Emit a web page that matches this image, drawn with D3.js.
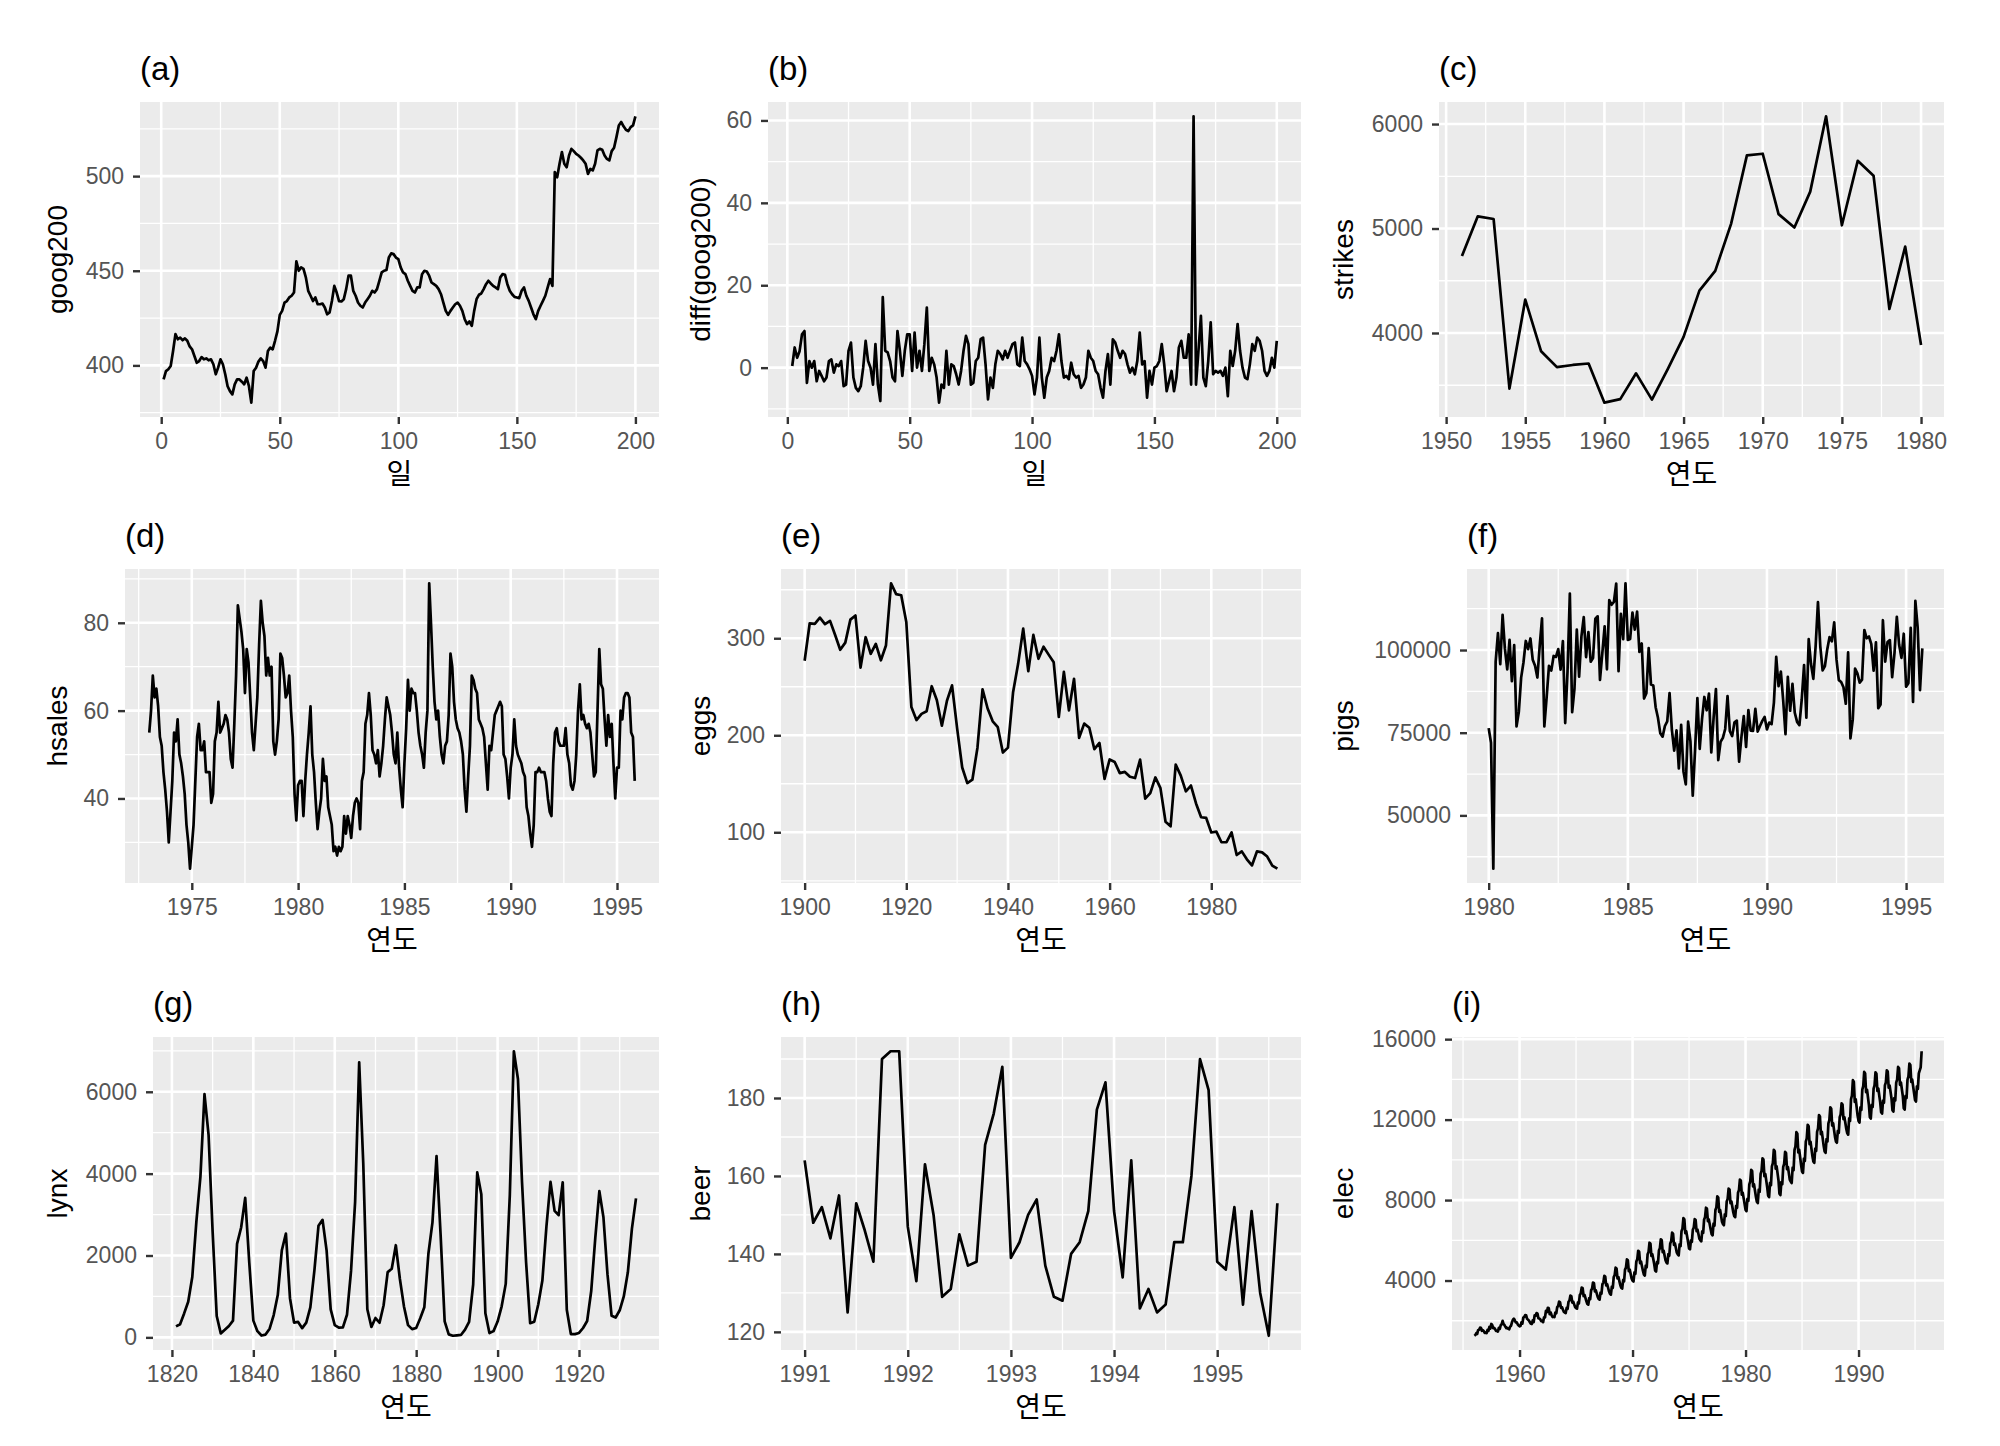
<!DOCTYPE html>
<html>
<head>
<meta charset="utf-8">
<script src="https://cdnjs.cloudflare.com/ajax/libs/d3/7.8.5/d3.min.js"></script>
<style>
  body { margin: 0; background: #fff; }
  text { font-family: "Liberation Sans", Arial, "Noto Sans CJK KR", sans-serif; }
</style>
</head>
<body>
<div id="chart"></div>
<script>
/////////// series ///////////

// (a) goog200, days 1..200
var goog200 = [
  392.6, 397, 398, 399.7, 407.6, 416.5, 413.8, 414.7, 413.3, 414.3,
  413, 410, 408.5, 405, 401.4, 402.3, 404.4, 403.2, 403.7, 402.7,
  403.2, 400.6, 395.3, 398.8, 403.2, 400.6, 395.3, 389, 386.4, 384.7,
  390, 392.6, 392.6, 391.4, 390, 393.5, 389, 380.3, 397, 398.8,
  402, 403.7, 402.3, 398.8, 407.6, 409.4, 408.5, 413, 418, 426.7,
  428.8, 433.2, 434, 435.9, 436.8, 438.5, 455, 450, 451.8, 451,
  446.5, 439.4, 436.8, 434, 435.9, 432.3, 432.3, 432.7, 430.6, 427,
  428, 434, 442, 438.5, 434, 433.8, 435, 440.3, 447.4, 447.4,
  439.4, 436.8, 433.2, 431.5, 430.6, 433.2, 435, 436.8, 439.4, 438.5,
  440.3, 444.7, 449.1, 450, 450.4, 457, 459.2, 458.8, 457, 456.2,
  451.8, 449.1, 448.2, 444.7, 442, 439.4, 438.5, 441.2, 441.2, 448.2,
  450, 449.6, 447.4, 443.8, 442.9, 442, 440.3, 437.6, 433.2, 428.8,
  426.7, 428.8, 430.6, 432.3, 433.2, 431.5, 428.8, 424.4, 421.8, 423.2,
  420.9, 428.8, 435, 437.3, 438, 440.3, 442.9, 444.7, 443.3, 442,
  441.2, 440.3, 446.5, 448.2, 447.9, 442.9, 439.4, 437.6, 436.2, 435.9,
  435.5, 439.4, 441.2, 436.8, 434.1, 430.6, 427, 424.4, 428.8, 431.5,
  434.1, 436.8, 441.2, 445.6, 442, 502.1, 499.4, 506.5, 512.7, 506.5,
  504.7, 510.9, 514.4, 513.2, 511.8, 510.9, 509.7, 508.3, 506.5, 501.2,
  503.8, 503, 506.5, 513.6, 514.4, 513.9, 510.9, 509.1, 508.3, 513.2,
  515, 520.6, 526.8, 528.6, 526.3, 524.5, 523.8, 525.9, 526.8, 531.6
];

// (b) diff(goog200), days 2..200
var googDiff = [
  0.4, 4.9, 2.4, 4, 8.1, 8.9, -3.7, 1.6, 0,
  1.6, -3.3, -0.8, -2, -3.3, -2.4, 1.6, 2, -1.2, 0.8,
  0.4, 1.6, -4.5, -4.1, 4.1, 6.1, -2.4, -4.9, -5.7, -4.5,
  0, 6.5, 1.6, 0, -4.1, 5.7, -4.1, -8.1, 17.1, 4.1,
  3.7, 1.6, -2.4, -3.3, 8.9, 4.1, -2, 4.1, 8.1, 8.1,
  -0.8, 8.5, 0, 4.1, -0.8, 5.7, 14.6, -0.8, 2.4, 0.8,
  -2.4, -8.5, -4.1, -4.9, 4.1, -4.1, 0.8, 0.4, -1.6, -4.1,
  -0.8, 4.1, 7.7, 5.7, -4.1, -3.7, 1.6, 2.4, 6.9, 7.3,
  0.8, -7.7, -2.4, -4.9, 0.8, 4.1, 3.3, 2, 4.1, 2.4,
  4.1, 5.7, 6.1, 0.8, 0.4, 7.3, 1.6, 0.8, -0.4, -2,
  -6.5, -2.4, 7.3, -2.4, -7.3, -2.4, -0.8, 2.4, 1.6, 4.1,
  8.1, 1.6, -2.4, -2, -2.8, 1.2, -1.6, -2.4, -2, -4.9,
  -4.1, -2.4, 4.1, 2.4, 1.6, -0.8, -1.6, -4.9, -7.3, -0.8,
  3.3, -4.1, 6.9, 6.1, 4.1, 2.4, 4.1, 3.3, 0.8, -1.2,
  0, -1.6, 1.6, 8.5, 0.8, 1.6, -7.3, -0.8, -4.1, 0,
  0.4, 1.6, 5.7, 0.8, -5.7, -3.3, -0.8, -5.7, -2.4, 4.9,
  6.5, 2.4, 2.4, 8.1, -4.1, 61, -4.1, 4.1, 12.6, -2.4,
  -4.5, 1.6, 11, -1.6, -0.8, -1.2, -0.8, -2, 0, -6.9,
  4.1, 0.4, 4.1, 10.6, 4.1, 0, -2.4, -2.8, 0.8, 5.7,
  4.1, 7.3, 6.5, 4.1, -0.8, -2, -0.8, 2.4, 0, 6.5
];

// (c) strikes, 1951..1980
var strikes = [
  4737, 5117, 5091, 3468, 4320, 3825, 3673, 3694, 3708, 3333,
  3367, 3614, 3362, 3655, 3963, 4405, 4595, 5045, 5700, 5716,
  5138, 5010, 5353, 6074, 5031, 5648, 5506, 4230, 4827, 3885
];

// (d) hsales, monthly from Jan 1973
var hsales = [
  55, 60, 68, 63, 65, 61, 54, 52, 46, 42, 37, 30,
  37, 44, 55, 53, 58, 50, 48, 45, 41, 34, 30, 24,
  29, 34, 44, 54, 57, 51, 51, 53, 46, 46, 46, 39,
  41, 53, 55, 62, 55, 56, 57, 59, 58, 55, 49, 47,
  57, 68, 84, 81, 78, 74, 64, 74, 71, 63, 55, 51,
  57, 63, 75, 85, 80, 77, 68, 72, 68, 70, 53, 50,
  53, 58, 73, 72, 68, 63, 64, 68, 60, 54, 41, 35,
  43, 44, 44, 36, 44, 50, 55, 61, 50, 46, 39, 33,
  37, 40, 49, 44, 45, 38, 36, 34, 28, 29, 27, 29,
  28, 29, 36, 32, 36, 34, 31, 36, 39, 40, 39, 33,
  44, 46, 57, 59, 64, 59, 51, 50, 48, 51, 45, 48,
  52, 58, 63, 61, 59, 55, 50, 48, 55, 47, 42, 38,
  48, 56, 67, 60, 65, 64, 64, 60, 55, 52, 50, 47,
  55, 60, 89, 80, 70, 62, 58, 60, 54, 50, 48, 52,
  53, 59, 73, 70, 62, 58, 56, 55, 53, 50, 42, 37,
  45, 52, 68, 67, 65, 64, 58, 57, 56, 54, 48, 42,
  52, 51, 55, 59, 60, 61, 62, 61, 50, 49, 45, 40,
  47, 50, 58, 52, 50, 49, 48, 46, 45, 38, 36, 32,
  29, 34, 46, 46, 47, 46, 46, 46, 44, 40, 37, 36,
  48, 55, 56, 53, 52, 52, 52, 56, 50, 48, 43, 42,
  44, 50, 60, 66, 58, 59, 57, 56, 57, 55, 50, 45,
  46, 60, 74, 66, 65, 58, 52, 59, 54, 57, 48, 40,
  47, 47, 60, 58, 63, 64, 64, 63, 55, 54, 44
];

// (e) eggs, 1900..1993
var eggs = [
  276.79, 315.42, 314.87, 321.25, 314.54, 317.92, 303.39, 288.11, 295.5, 319.2,
  323.4, 269.8, 301.06, 284, 294.23, 277.3, 292.51, 356.67, 345.46, 344.31,
  316.84, 229.07, 215.66, 222.09, 224.8, 250.53, 236.42, 209.89, 235.62, 251.44,
  207.07, 166.74, 150.71, 154.21, 187.18, 247.4, 227.61, 214.36, 208.35, 182.19,
  187.25, 244.03, 273.63, 309.96, 266.03, 303.43, 278.83, 291.32, 283.14, 275.17,
  218.84, 265.37, 225.72, 258.18, 197.36, 211.98, 207.68, 185.61, 192.07, 155.07,
  175.04, 172.49, 161.02, 162.19, 157.17, 155.89, 174.92, 134.64, 140.31, 156.54,
  145.55, 110.92, 106.21, 169.76, 158.44, 142.24, 148.17, 129.75, 115.5, 114.76,
  99.77, 100.59, 89.69, 89.8, 99.77, 76.55, 80.31, 72.16, 65.81, 80.36,
  79.3, 74.94, 65.67, 62.42
];

// (f) pigs, monthly from Jan 1980
var pigs = [
  76378, 71947, 33873, 96428, 105084, 95741, 110647, 100331, 94133, 103055, 90595, 101457,
  76889, 81291, 91643, 96228, 102736, 100264, 103491, 97027, 95240, 91680, 101259, 109564,
  76892, 85773, 95210, 93771, 98202, 97906, 100306, 94089, 102680, 77919, 93561, 117062,
  81225, 88357, 106175, 91922, 104114, 109959, 97880, 105386, 96479, 97580, 109490, 110191,
  90974, 98981, 107188, 94177, 115097, 113696, 114532, 120110, 93607, 110925, 103312, 120184,
  103069, 103351, 111331, 106161, 111590, 99447, 101987, 85333, 86970, 100561, 89543, 89265,
  82719, 79498, 74846, 73819, 77029, 78446, 86978, 75878, 69571, 75722, 64182, 77357,
  63292, 59380, 78332, 72381, 55971, 69750, 85472, 70133, 79125, 85805, 81778, 86852,
  69069, 79556, 88174, 66698, 72258, 73445, 76131, 86082, 75443, 73969, 78139, 78646,
  66269, 73776, 80034, 70694, 81823, 75640, 75540, 82229, 75345, 77034, 78589, 79769,
  75982, 78074, 77588, 84100, 97966, 89051, 93503, 84747, 74531, 91900, 81635, 89797,
  81022, 78265, 77271, 85043, 95418, 79568, 103283, 95770, 91297, 101244, 114525, 101139,
  93866, 95171, 100183, 103926, 102643, 108387, 97077, 90901, 90336, 88732, 83759, 99267,
  73292, 78943, 94399, 92937, 90130, 91055, 106062, 103560, 104075, 101783, 93791, 102313,
  82413, 83534, 109011, 96499, 102430, 103002, 91815, 99067, 110067, 101599, 97646, 104930,
  88905, 89936, 106723, 84307, 114896, 106749, 87892, 100506
];

// (g) lynx, 1821..1934
var lynx = [
  269, 321, 585, 871, 1475, 2821, 3928, 5943, 4950, 2577,
  523, 98, 184, 279, 409, 2285, 2685, 3409, 1824, 409,
  151, 45, 68, 213, 546, 1033, 2129, 2536, 957, 361,
  377, 225, 360, 731, 1638, 2725, 2871, 2119, 684, 299,
  236, 245, 552, 1623, 3311, 6721, 4254, 687, 255, 473,
  358, 784, 1594, 1676, 2251, 1426, 756, 299, 201, 229,
  469, 736, 2042, 2811, 4431, 2511, 389, 73, 39, 49,
  59, 188, 377, 1292, 4031, 3495, 587, 105, 153, 387,
  758, 1307, 3465, 6991, 6313, 3794, 1836, 345, 382, 808,
  1388, 2713, 3800, 3091, 2985, 3790, 674, 81, 80, 108,
  229, 399, 1132, 2432, 3574, 2935, 1537, 529, 485, 662,
  1000, 1590, 2657, 3396
];

// (h) beer, monthly from Jan 1991
var beer = [
  164, 148, 152, 144, 155, 125, 153, 146, 138, 190, 192, 192,
  147, 133, 163, 150, 129, 131, 145, 137, 138, 168, 176, 188,
  139, 143, 150, 154, 137, 129, 128, 140, 143, 151, 177, 184,
  151, 134, 164, 126, 131, 125, 127, 143, 143, 160, 190, 182,
  138, 136, 152, 127, 151, 130, 119, 153
];

// (i) elec, monthly from Jan 1956
var elec = [
  1254, 1290, 1379, 1346, 1535, 1555, 1655, 1651, 1500, 1538, 1486, 1394,
  1409, 1387, 1543, 1502, 1693, 1616, 1841, 1787, 1631, 1649, 1586, 1500,
  1497, 1463, 1648, 1595, 1777, 1824, 1994, 1835, 1787, 1699, 1633, 1645,
  1597, 1577, 1709, 1756, 1936, 2052, 2105, 2016, 1914, 1925, 1824, 1765,
  1721, 1752, 1914, 1857, 2159, 2195, 2287, 2276, 2096, 2055, 2004, 1924,
  1851, 1839, 2019, 1937, 2270, 2251, 2382, 2364, 2129, 2110, 2072, 1980,
  1995, 1932, 2171, 2162, 2489, 2424, 2641, 2630, 2324, 2412, 2284, 2186,
  2203, 2180, 2411, 2373, 2681, 2734, 2950, 2927, 2642, 2681, 2565, 2450,
  2406, 2380, 2641, 2598, 2946, 3006, 3250, 3224, 2902, 2946, 2815, 2685,
  2632, 2600, 2915, 2863, 3283, 3356, 3650, 3619, 3230, 3283, 3125, 2968,
  2833, 2800, 3130, 3075, 3515, 3592, 3900, 3867, 3460, 3515, 3350, 3185,
  3085, 3050, 3404, 3345, 3817, 3900, 4230, 4195, 3758, 3817, 3640, 3463,
  3340, 3300, 3702, 3635, 4171, 4265, 4640, 4600, 4104, 4171, 3970, 3769,
  3644, 3600, 4035, 3963, 4543, 4644, 5050, 5007, 4470, 4543, 4325, 4108,
  3996, 3950, 4409, 4333, 4945, 5052, 5480, 5434, 4868, 4945, 4715, 4486,
  4299, 4250, 4739, 4658, 5310, 5424, 5880, 5831, 5228, 5310, 5065, 4821,
  4498, 4450, 4930, 4850, 5490, 5602, 6050, 6002, 5410, 5490, 5250, 5010,
  4896, 4850, 5309, 5233, 5845, 5952, 6380, 6334, 5768, 5845, 5615, 5386,
  5306, 5250, 5805, 5713, 6453, 6582, 7100, 7045, 6360, 6453, 6175, 5898,
  5595, 5550, 6000, 5925, 6525, 6630, 7050, 7005, 6450, 6525, 6300, 6075,
  6000, 5950, 6451, 6368, 7036, 7152, 7620, 7570, 6952, 7036, 6785, 6535,
  6308, 6250, 6829, 6733, 7505, 7640, 8180, 8122, 7408, 7505, 7215, 6926,
  6805, 6750, 7296, 7205, 7933, 8060, 8570, 8515, 7842, 7933, 7660, 7387,
  7206, 7150, 7711, 7618, 8366, 8496, 9020, 8964, 8272, 8366, 8085, 7805,
  7512, 7450, 8065, 7963, 8783, 8926, 9500, 9439, 8680, 8783, 8475, 8168,
  7917, 7850, 8519, 8408, 9300, 9456, 10080, 10013, 9188, 9300, 8965, 8631,
  8221, 8150, 8855, 8738, 9678, 9842, 10500, 10430, 9560, 9678, 9325, 8973,
  8315, 8250, 8895, 8788, 9648, 9798, 10400, 10336, 9540, 9648, 9325, 9003,
  8926, 8850, 9609, 9483, 10495, 10672, 11380, 11304, 10368, 10495, 10115, 9736,
  9422, 9350, 10067, 9948, 10904, 11071, 11740, 11668, 10784, 10904, 10545, 10187,
  9921, 9850, 10564, 10445, 11397, 11564, 12230, 12159, 11278, 11397, 11040, 10683,
  10418, 10350, 11028, 10915, 11819, 11977, 12610, 12542, 11706, 11819, 11480, 11141,
  10909, 10850, 11438, 11340, 12124, 12261, 12810, 12751, 12026, 12124, 11830, 11536,
  11331, 11250, 12063, 11928, 13012, 13201, 13960, 13879, 12876, 13012, 12605, 12199,
  11926, 11850, 12606, 12480, 13488, 13664, 14370, 14294, 13362, 13488, 13110, 12732,
  12119, 12050, 12740, 12625, 13545, 13706, 14350, 14281, 13430, 13545, 13200, 12855,
  12365, 12300, 12945, 12838, 13698, 13848, 14450, 14386, 13590, 13698, 13375, 13053,
  12467, 12400, 13066, 12955, 13843, 13998, 14620, 14553, 13732, 13843, 13510, 13177,
  12569, 12500, 13187, 13073, 13989, 14149, 14790, 14721, 13874, 13989, 13645, 13302,
  12975, 12900, 13650, 13525, 14300, 14450, 14600, 15400
];

// tick labels per panel
var ticksDay = [0, 50, 100, 150, 200];
var ticksA = [400, 450, 500];
var ticksB = [0, 20, 40, 60];
var ticksStrikesX = [1950, 1955, 1960, 1965, 1970, 1975, 1980];
var ticksStrikesY = [4000, 5000, 6000];
var ticksHsalesX = [1975, 1980, 1985, 1990, 1995];
var ticksHsalesY = [40, 60, 80];
var ticksEggsX = [1900, 1920, 1940, 1960, 1980];
var ticksEggsY = [100, 200, 300];
var ticksPigsX = [1980, 1985, 1990, 1995];
var ticksPigsY = [50000, 75000, 100000];
var ticksLynxX = [1820, 1840, 1860, 1880, 1900, 1920];
var ticksLynxY = [0, 2000, 4000, 6000];
var ticksBeerX = [1991, 1992, 1993, 1994, 1995];
var ticksBeerY = [120, 140, 160, 180];
var ticksElecX = [1960, 1970, 1980, 1990];
var ticksElecY = [4000, 8000, 12000, 16000];

/////////// drawing ///////////

var svg = d3.select("#chart").append("svg")
  .attr("width", 2000).attr("height", 1446)
  .style("background", "#fff");

function series(values, start, step) {
  return values.map(function(v, i) { return { x: start + i * step, y: v }; });
}

// ggplot-style minor breaks: half way between majors, one beyond each end
function minorBreaks(ticks, domain) {
  var step = ticks[1] - ticks[0];
  var out = [ticks[0] - step / 2];
  ticks.forEach(function(t) { out.push(t + step / 2); });
  return out.filter(function(v) { return v >= domain[0] && v <= domain[1]; });
}

function padded(ext) {
  var p = (ext[1] - ext[0]) * 0.05;
  return [ext[0] - p, ext[1] + p];
}

var panelTitleSize = 33, axisTitleSize = 28, tickSize = 23;

function drawPanel(p) {
  var left = p.box[0], top = p.box[1], right = p.box[2], bottom = p.box[3];
  var xd = padded(d3.extent(p.data, function(d) { return d.x; }));
  var yd = padded(d3.extent(p.data, function(d) { return d.y; }));
  var x = d3.scaleLinear().domain(xd).range([left, right]);
  var y = d3.scaleLinear().domain(yd).range([bottom, top]);

  var g = svg.append("g");
  g.append("rect")
    .attr("x", left).attr("y", top)
    .attr("width", right - left).attr("height", bottom - top)
    .attr("fill", "#EBEBEB");

  // grid
  g.selectAll(".hmin").data(minorBreaks(p.yTicks, yd)).enter().append("line")
    .attr("x1", left).attr("x2", right)
    .attr("y1", function(d) { return y(d); }).attr("y2", function(d) { return y(d); })
    .attr("stroke", "#fff").attr("stroke-width", 1.3);
  g.selectAll(".vmin").data(minorBreaks(p.xTicks, xd)).enter().append("line")
    .attr("y1", top).attr("y2", bottom)
    .attr("x1", function(d) { return x(d); }).attr("x2", function(d) { return x(d); })
    .attr("stroke", "#fff").attr("stroke-width", 1.3);
  g.selectAll(".hmaj").data(p.yTicks).enter().append("line")
    .attr("x1", left).attr("x2", right)
    .attr("y1", function(d) { return y(d); }).attr("y2", function(d) { return y(d); })
    .attr("stroke", "#fff").attr("stroke-width", 2.6);
  g.selectAll(".vmaj").data(p.xTicks).enter().append("line")
    .attr("y1", top).attr("y2", bottom)
    .attr("x1", function(d) { return x(d); }).attr("x2", function(d) { return x(d); })
    .attr("stroke", "#fff").attr("stroke-width", 2.6);

  // series
  g.append("path")
    .datum(p.data)
    .attr("fill", "none")
    .attr("stroke", "#000")
    .attr("stroke-width", 2.7)
    .attr("stroke-linejoin", "round")
    .attr("d", d3.line().x(function(d) { return x(d.x); }).y(function(d) { return y(d.y); }));

  // axes
  var ax = g.append("g").attr("transform", "translate(0," + bottom + ")")
    .call(d3.axisBottom(x).tickValues(p.xTicks).tickSize(7).tickPadding(9).tickFormat(d3.format("d")));
  var ay = g.append("g").attr("transform", "translate(" + left + ",0)")
    .call(d3.axisLeft(y).tickValues(p.yTicks).tickSize(7).tickPadding(9).tickFormat(d3.format("d")));
  [ax, ay].forEach(function(a) {
    a.select(".domain").remove();
    a.selectAll(".tick line").attr("stroke", "#333").attr("stroke-width", 2.4);
    a.selectAll(".tick text")
      .attr("fill", "#555")
      .style("font-size", tickSize + "px")
      .style("font-family", "'Liberation Sans', Arial, sans-serif");
  });

  // titles
  g.append("text")
    .attr("x", left).attr("y", top - 22)
    .style("font-size", panelTitleSize + "px")
    .attr("fill", "#000")
    .text(p.tag);
  g.append("text")
    .attr("x", (left + right) / 2).attr("y", bottom + 55)
    .attr("text-anchor", "middle").attr("dominant-baseline", "central")
    .style("font-size", axisTitleSize + "px")
    .style("font-family", "'Noto Sans CJK KR', sans-serif")
    .attr("fill", "#000")
    .text(p.xLabel);
  g.append("text")
    .attr("transform", "translate(" + p.yTitleX + "," + ((top + bottom) / 2) + ") rotate(-90)")
    .attr("text-anchor", "middle").attr("dominant-baseline", "central")
    .style("font-size", axisTitleSize + "px")
    .attr("fill", "#000")
    .text(p.yLabel);
}

var panels = [
  { tag: "(a)", box: [140, 102, 659, 417], data: series(goog200, 1, 1), xTicks: ticksDay, yTicks: ticksA, xLabel: "일", yLabel: "goog200", yTitleX: 57 },
  { tag: "(b)", box: [768, 102, 1301, 417], data: series(googDiff, 2, 1), xTicks: ticksDay, yTicks: ticksB, xLabel: "일", yLabel: "diff(goog200)", yTitleX: 700 },
  { tag: "(c)", box: [1439, 102, 1944, 417], data: series(strikes, 1951, 1), xTicks: ticksStrikesX, yTicks: ticksStrikesY, xLabel: "연도", yLabel: "strikes", yTitleX: 1343 },
  { tag: "(d)", box: [125, 569, 659, 883], data: series(hsales, 1973, 1 / 12), xTicks: ticksHsalesX, yTicks: ticksHsalesY, xLabel: "연도", yLabel: "hsales", yTitleX: 57 },
  { tag: "(e)", box: [781, 569, 1301, 883], data: series(eggs, 1900, 1), xTicks: ticksEggsX, yTicks: ticksEggsY, xLabel: "연도", yLabel: "eggs", yTitleX: 700 },
  { tag: "(f)", box: [1467, 569, 1944, 883], data: series(pigs, 1980, 1 / 12), xTicks: ticksPigsX, yTicks: ticksPigsY, xLabel: "연도", yLabel: "pigs", yTitleX: 1343 },
  { tag: "(g)", box: [153, 1037, 659, 1350], data: series(lynx, 1821, 1), xTicks: ticksLynxX, yTicks: ticksLynxY, xLabel: "연도", yLabel: "lynx", yTitleX: 57 },
  { tag: "(h)", box: [781, 1037, 1301, 1350], data: series(beer, 1991, 1 / 12), xTicks: ticksBeerX, yTicks: ticksBeerY, xLabel: "연도", yLabel: "beer", yTitleX: 700 },
  { tag: "(i)", box: [1452, 1037, 1944, 1350], data: series(elec, 1956, 1 / 12), xTicks: ticksElecX, yTicks: ticksElecY, xLabel: "연도", yLabel: "elec", yTitleX: 1343 }
];

panels.forEach(drawPanel);
</script>
</body>
</html>
